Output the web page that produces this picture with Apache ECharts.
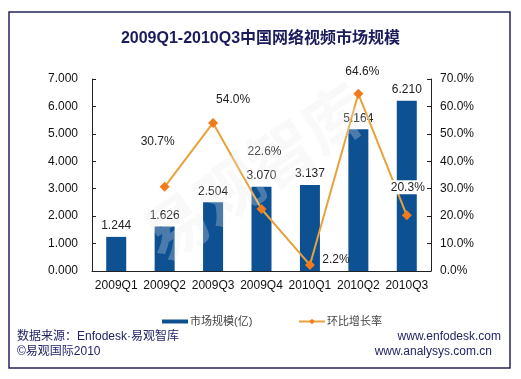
<!DOCTYPE html>
<html><head><meta charset="utf-8">
<script src="https://cdn.jsdelivr.net/npm/echarts@6/dist/echarts.min.js"></script>
<style>html,body{margin:0;padding:0;background:#fff}#c{width:521px;height:379px}</style>
</head><body><div id="c"></div>
<script>
const categories = ['2009Q1','2009Q2','2009Q3','2009Q4','2010Q1','2010Q2','2010Q3'];
const marketSize = [1.244, 1.626, 2.504, 3.070, 3.137, 5.164, 6.210];
const growthRate = [null, 30.7, 54.0, 22.6, 2.2, 64.6, 20.3];
const leftTicks = [0, 7, 1];
const rightTicks = [0, 70, 10];
const growthLabelOffsets = [null, [-7,-28], [20,-6], [3,-40], [26,12], [4,-5], [1,-11]];

const chart = echarts.init(document.getElementById('c'));
const font = '"Liberation Sans", Arial, "Noto Sans CJK SC", sans-serif';
const lineData = growthRate.map((v,i)=> v===null ? null : {
  value: v,
  label: {offset: growthLabelOffsets[i], backgroundColor: i===6 ? '#fff' : 'transparent', padding: [1,1]}
});
chart.setOption({
  animation: false,
  textStyle: {fontFamily: font},
  title: {text: '2009Q1-2010Q3中国网络视频市场规模', left: 'center', top: 26,
    textStyle: {fontSize: 16, fontWeight: 'bold', color: '#1c1c5c', fontFamily: font}},
  grid: {left: 92, right: 90, top: 79, bottom: 108},
  legend: [
    {data: [{name: '市场规模(亿)', icon: 'rect'}], left: 157, top: 311, itemWidth: 26, itemHeight: 4,
     itemGap: 2, textStyle: {fontSize: 11, color: '#444', padding: [0,0,0,-3]}},
    {data: ['环比增长率'], left: 293, top: 311, itemWidth: 26, itemHeight: 7,
     textStyle: {fontSize: 11, color: '#444', padding: [0,0,0,-3]}}
  ],
  xAxis: {type: 'category', data: categories,
    axisLine: {lineStyle: {color: '#222'}},
    axisTick: {inside: true, length: 4, lineStyle: {color: '#222'}},
    axisLabel: {color: '#111', fontSize: 12, margin: 9, interval: 0}},
  yAxis: [
    {type: 'value', min: leftTicks[0], max: leftTicks[1], interval: leftTicks[2],
     splitLine: {show: false},
     axisLine: {show: true, lineStyle: {color: '#222'}},
     axisTick: {show: true, inside: true, length: 4, lineStyle: {color: '#222'}},
     axisLabel: {color: '#111', fontSize: 12, margin: 14, formatter: v => v.toFixed(3)}},
    {type: 'value', min: rightTicks[0], max: rightTicks[1], interval: rightTicks[2],
     splitLine: {show: false},
     axisLine: {show: true, lineStyle: {color: '#222'}},
     axisTick: {show: true, inside: true, length: 4, lineStyle: {color: '#222'}},
     axisLabel: {color: '#111', fontSize: 12, margin: 9, formatter: v => v.toFixed(1) + '%'}}
  ],
  series: [
    {name: '市场规模(亿)', type: 'bar', data: marketSize, barWidth: 20, yAxisIndex: 0,
     itemStyle: {color: '#0d5193'},
     label: {show: true, position: 'top', distance: 5, color: '#222', fontSize: 12,
       formatter: p => p.value.toFixed(3)}},
    {name: '环比增长率', type: 'line', data: lineData, yAxisIndex: 1, z: 5,
     symbol: 'diamond', symbolSize: 10,
     lineStyle: {color: '#e8a23a', width: 2},
     itemStyle: {color: '#f07a1c'},
     label: {show: true, position: 'top', color: '#222', fontSize: 12,
       formatter: p => p.value.toFixed(1) + '%'}}
  ],
  graphic: [
    {type: 'rect', shape: {x: 9, y: 12, width: 501, height: 356}, z: -1,
     style: {fill: 'none', stroke: '#24245e', lineWidth: 1.5}},
    {type: 'text', left: 17, top: 331, style: {text: '数据来源：Enfodesk·易观智库', fill: '#232366', fontSize: 12, fontFamily: font}},
    {type: 'text', left: 17, top: 346, style: {text: '©易观国际2010', fill: '#232366', fontSize: 12, fontFamily: font}},
    {type: 'text', right: 20, top: 331, style: {text: 'www.enfodesk.com', fill: '#232366', fontSize: 12, fontFamily: font}},
    {type: 'text', right: 29, top: 346, style: {text: 'www.analysys.com.cn', fill: '#232366', fontSize: 12, fontFamily: font}},
    {type: 'text', x: 255, y: 172, rotation: 0.6, z: 100,
     style: {text: '易观智库', fill: 'rgba(235,235,235,0.28)', fontSize: 64, fontWeight: 'bold',
       align: 'center', verticalAlign: 'middle', fontFamily: '"Noto Sans CJK SC", sans-serif'}}
  ]
});
</script></body></html>
